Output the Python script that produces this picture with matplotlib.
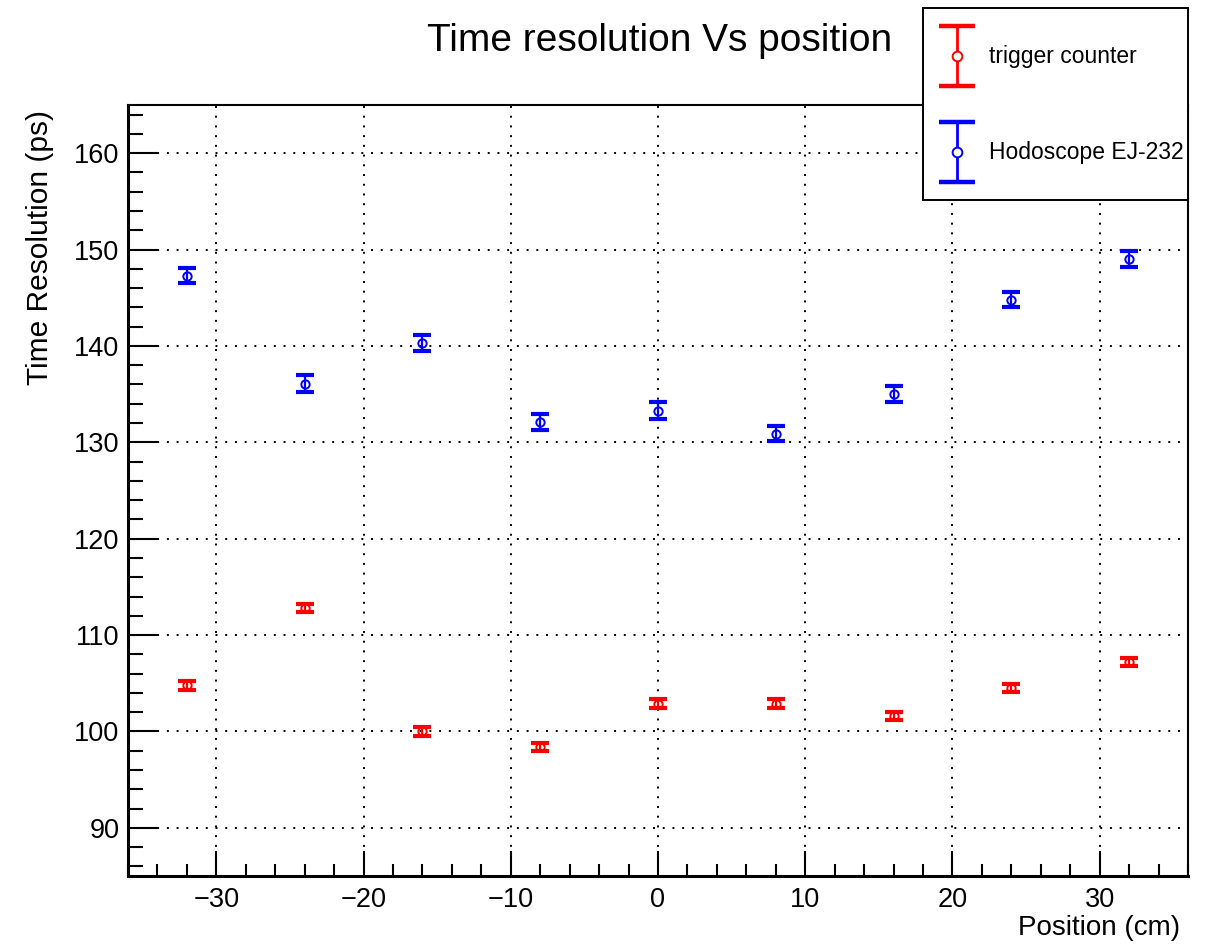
import matplotlib
matplotlib.use("Agg")
import matplotlib.pyplot as plt
from matplotlib.ticker import MultipleLocator

plt.rcParams['font.family'] = ['Liberation Sans', 'DejaVu Sans']

# data
positions = [-32, -24, -16, -8, 0, 8, 16, 24, 32]
trigger_res = [104.8, 112.8, 100.0, 98.4, 102.9, 102.9, 101.6, 104.5, 107.2]
trigger_err = [0.45, 0.45, 0.45, 0.45, 0.5, 0.45, 0.45, 0.45, 0.45]
hodo_res = [147.3, 136.1, 140.3, 132.1, 133.3, 130.9, 135.0, 144.8, 149.0]
hodo_err = [0.8, 0.85, 0.8, 0.8, 0.85, 0.75, 0.8, 0.8, 0.8]

labels = ["trigger counter", "Hodoscope EJ-232"]
colors = ["#ff0000", "#0000ff"]

TICK_FS = 19.5
LABEL_FS = 20


def draw_points(ax, x, y, err, color):
    eb = ax.errorbar(x, y, yerr=err, fmt='o', color=color, ecolor=color,
                     markerfacecolor='none', markeredgecolor=color, markersize=6,
                     elinewidth=1.6, capsize=6.5, capthick=3.0, zorder=3)
    eb.lines[0].set_markeredgewidth(1.4)


def main():
    fig = plt.figure(figsize=(12.14, 9.44), dpi=100)
    ax = fig.add_axes([0.1054, 0.0720, 0.8732, 0.8168])

    draw_points(ax, positions, trigger_res, trigger_err, colors[0])
    draw_points(ax, positions, hodo_res, hodo_err, colors[1])

    ax.set_xlim(-36, 36)
    ax.set_ylim(85, 165)
    ax.xaxis.set_major_locator(MultipleLocator(10))
    ax.xaxis.set_minor_locator(MultipleLocator(2))
    ax.yaxis.set_major_locator(MultipleLocator(10))
    ax.yaxis.set_minor_locator(MultipleLocator(2))
    ax.grid(True, which='major', color='black', linestyle=(0, (1, 4)), linewidth=1.4)

    for s in ax.spines.values():
        s.set_linewidth(1.5)
    ax.spines['left'].set_linewidth(2.2)
    ax.spines['bottom'].set_linewidth(2.2)

    ax.tick_params(axis='both', which='both', direction='in', top=False, right=False,
                   labelsize=TICK_FS, width=1.5)
    ax.tick_params(axis='y', which='major', length=21.5, pad=6)
    ax.tick_params(axis='y', which='minor', length=11)
    ax.tick_params(axis='x', which='major', length=18, pad=8)
    ax.tick_params(axis='x', which='minor', length=8.5)

    fig.text(0.9720, 0.017, "Position (cm)", fontsize=LABEL_FS, ha='right', va='center')
    fig.text(0.033, 0.884, "Time Resolution (ps)", fontsize=21.5, rotation=90,
             ha='center', va='top')
    fig.text(0.543, 0.957, "Time resolution Vs position", fontsize=28,
             ha='center', va='center')

    # legend box, drawn ROOT-style
    lg = fig.add_axes([0.7603, 0.7881, 0.2183, 0.2034])
    lg.set_xlim(0, 1)
    lg.set_ylim(0, 1)
    lg.set_xticks([])
    lg.set_yticks([])
    for s in lg.spines.values():
        s.set_linewidth(1.4)
    lg.set_facecolor('white')
    lg.set_zorder(5)
    for yc, lab, col in zip([0.75, 0.25], labels, colors):
        leb = lg.errorbar([0.128], [yc], yerr=[0.155], fmt='o', color=col, ecolor=col,
                          markerfacecolor='white', markeredgecolor=col, markersize=7,
                          elinewidth=2.0, capsize=13, capthick=3.2)
        leb.lines[0].set_markeredgewidth(1.4)
        lg.text(0.25, yc, lab, fontsize=16.5, va='center', ha='left')

    fig.savefig("out.png", dpi=100)
    plt.close(fig)


if __name__ == "__main__":
    main()
